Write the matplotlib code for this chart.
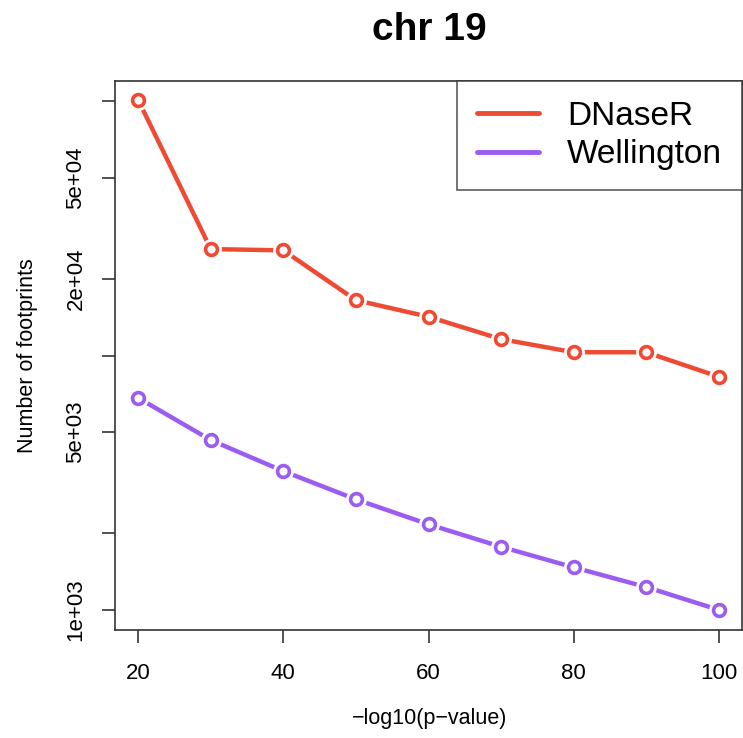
import matplotlib.pyplot as plt
from matplotlib.ticker import FixedLocator, NullLocator

plt.rcParams["font.family"] = ["Liberation Sans", "DejaVu Sans"]

pvalue = [20, 30, 40, 50, 60, 70, 80, 90, 100]
dnaser = [101000, 26200, 25900, 16500, 14200, 11600, 10300, 10300, 8250]
wellington = [6810, 4650, 3510, 2720, 2170, 1770, 1470, 1230, 1000]

y_ticks = [1e3, 2e3, 5e3, 1e4, 2e4, 5e4, 1e5]
y_labels = ["1e+03", "", "5e+03", "", "2e+04", "5e+04", ""]
x_ticks = [20, 40, 60, 80, 100]

RED = "#EF4A33"
PURPLE = "#9B5CF2"

fig = plt.figure(figsize=(7.43, 7.38), dpi=100)
ax = fig.add_axes([115 / 743, 1 - 630 / 738, 627 / 743, 549 / 738])


def draw(values, color, label):
    ax.plot(pvalue, values, color=color, lw=3.2, solid_capstyle="round", label=label, zorder=2)
    # white halo so lines stop short of the points, like R's type="b"
    ax.plot(pvalue, values, ls="none", marker="o", ms=15, mfc="white", mec="none", zorder=3)
    ax.plot(pvalue, values, ls="none", marker="o", ms=8.5, mfc="white", mec=color, mew=2.6, zorder=4)


draw(dnaser, RED, "DNaseR")
draw(wellington, PURPLE, "Wellington")

ax.set_yscale("log")
ax.set_xlim(16.8, 103.2)
ax.set_ylim(10 ** 2.921, 10 ** 5.079)
ax.yaxis.set_major_locator(FixedLocator(y_ticks))
ax.set_yticklabels(y_labels)
ax.yaxis.set_minor_locator(NullLocator())
ax.set_xticks(x_ticks)
ax.set_xticklabels([str(v) for v in x_ticks])

ax.tick_params(axis="both", labelsize=16, length=9.5, width=1.2, color="#333333")
ax.tick_params(axis="x", pad=14)
ax.tick_params(axis="y", pad=11)
for lab in ax.get_yticklabels():
    lab.set_rotation(90)
    lab.set_va("center")
for side in ["top", "right", "bottom", "left"]:
    ax.spines[side].set_linewidth(1.2)
    ax.spines[side].set_color("#333333")

ax.set_xlabel("\u2212log10(p\u2212value)", fontsize=15.5, va="center")
ax.xaxis.set_label_coords(0.502, -0.162)
ax.set_ylabel("Number of footprints", fontsize=15.5, va="center")
ax.yaxis.set_label_coords(-0.14, 0.499)

leg = ax.legend(loc="upper right", borderaxespad=0, fontsize=24, frameon=True,
                fancybox=False, edgecolor="#333333", handlelength=1.85,
                handletextpad=0.85, labelspacing=0.22, borderpad=0.6)
leg.get_frame().set_linewidth(1.2)
for line in leg.get_lines():
    line.set_linewidth(3.5)

fig.text(0.578, 1 - 30 / 738, "chr 19", ha="center", va="center", fontsize=28, fontweight="bold")

fig.savefig("out.png", dpi=100)
